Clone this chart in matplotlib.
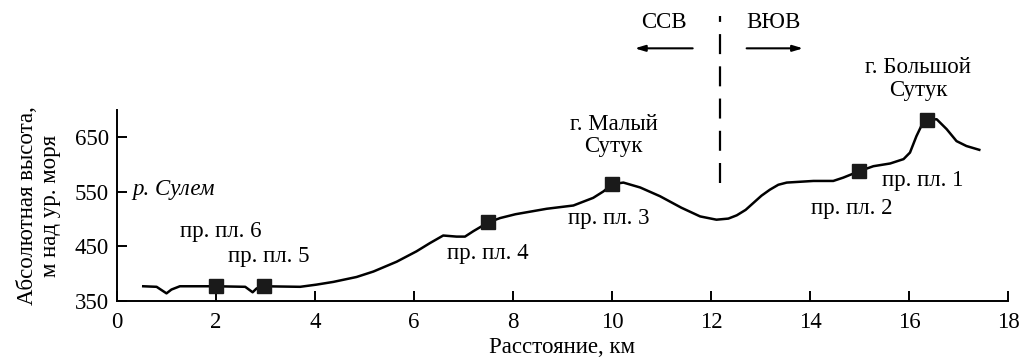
import matplotlib
matplotlib.use('Agg')
import matplotlib.pyplot as plt

plt.rcParams['font.family'] = ['Liberation Serif', 'DejaVu Serif']

# profile: distance (km), elevation (m)
dist = [0.53, 0.80, 1.00, 1.10, 1.27, 2.00, 2.59, 2.74, 2.82, 2.96, 3.70, 4.03,
        4.37, 4.84, 5.18, 5.65, 6.05, 6.32, 6.59, 6.86, 7.03, 7.20, 7.50, 7.74,
        8.05, 8.68, 9.22, 9.62, 9.83, 10.00, 10.23, 10.57, 10.97, 11.40, 11.78,
        12.11, 12.35, 12.52, 12.70, 12.86, 13.02, 13.19, 13.36, 13.53, 14.07,
        14.47, 14.67, 15.00, 15.28, 15.62, 15.89, 16.02, 16.15, 16.25, 16.37,
        16.56, 16.76, 16.96, 17.16, 17.42]
elev = [377, 376, 364, 371, 377, 377, 376, 366, 373, 377, 376, 380,
        385, 394, 404, 422, 441, 456, 470, 468, 468, 478, 494, 502,
        509, 519, 525, 539, 551, 564, 567, 558, 542, 521, 505,
        499, 501, 507, 517, 530, 543, 554, 563, 567, 570,
        570, 576, 588, 597, 602, 610, 622, 652, 671, 682,
        683, 665, 643, 634, 627]

# sample plots (пробные площади)
plot_x = [2.0, 2.96, 7.5, 10.0, 15.0, 16.37]
plot_y = [377, 377, 494, 564, 588, 682]
plot_names = ['пр. пл. 6', 'пр. пл. 5', 'пр. пл. 4', 'пр. пл. 3', 'пр. пл. 2', 'пр. пл. 1']
plot_label_xy = [(2.1, 478), (3.07, 432), (7.5, 437), (9.93, 502), (14.84, 519), (16.27, 570)]

xticks = list(range(0, 19, 2))
yticks = [350, 450, 550, 650]

divide_x = 12.18
fs = 16.5

fig = plt.figure(figsize=(10.2, 3.59), dpi=100)
ax = fig.add_axes([117/1020, 1 - 301/359, 891/1020, 191/359])

ax.plot(dist, elev, color='black', lw=1.8, solid_joinstyle='round')
ax.plot(plot_x, plot_y, 's', color='#1a1a1a', markersize=10)

for name, (tx, ty) in zip(plot_names, plot_label_xy):
    ax.text(tx, ty, name, ha='center', va='center', fontsize=fs)

ax.text(10.03, 653, 'г. Малый\nСутук', ha='center', va='center', fontsize=fs,
        linespacing=1.1)
ax.text(16.18, 757, 'г. Большой\nСутук', ha='center', va='center', fontsize=fs,
        linespacing=1.1, clip_on=False)
ax.text(1.15, 554, 'р. Сулем', ha='center', va='center', fontsize=fs, style='italic')

# direction divide
ax.plot([divide_x, divide_x], [567, 872], color='black', lw=1.6,
        linestyle=(0, (9.0, 5.5)), clip_on=False)
ax.text(11.04, 861, 'ССВ', ha='center', va='center', fontsize=fs, clip_on=False)
ax.text(13.26, 861, 'ВЮВ', ha='center', va='center', fontsize=fs, clip_on=False)
ax.annotate('', xy=(10.46, 813), xytext=(11.63, 813), annotation_clip=False,
            arrowprops=dict(arrowstyle='-|>,head_length=0.6,head_width=0.18',
                            color='black', lw=1.5, shrinkA=0, shrinkB=0))
ax.annotate('', xy=(13.86, 813), xytext=(12.72, 813), annotation_clip=False,
            arrowprops=dict(arrowstyle='-|>,head_length=0.6,head_width=0.18',
                            color='black', lw=1.5, shrinkA=0, shrinkB=0))

ax.set_xlim(0, 18)
ax.set_ylim(350, 700)
ax.set_xticks(xticks)
ax.set_yticks(yticks)
ax.tick_params(direction='in', length=7, width=1.4, labelsize=fs, pad=6)
ax.tick_params(axis='x', pad=8)
for s in ['top', 'right']:
    ax.spines[s].set_visible(False)
for s in ['left', 'bottom']:
    ax.spines[s].set_linewidth(1.4)

ax.set_xlabel('Расстояние, км', fontsize=fs, labelpad=3)
ax.set_ylabel('Абсолютная высота,\nм над ур. моря', fontsize=fs, labelpad=10,
              linespacing=1.1)

fig.savefig('out.png', dpi=100)
